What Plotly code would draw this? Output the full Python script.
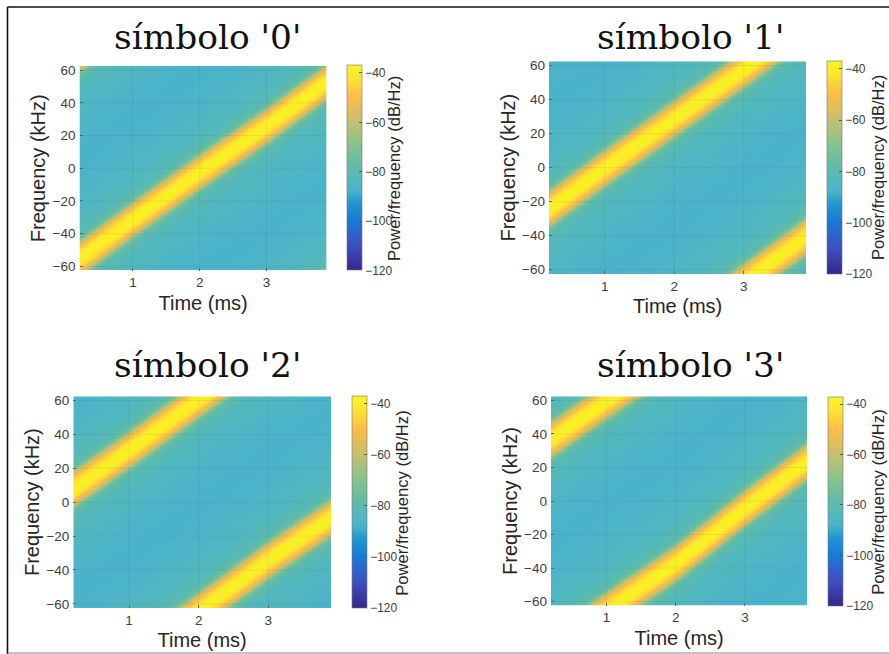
import numpy as np
import plotly.graph_objects as go

# Values
symbols = ["0", "1", "2", "3"]
ridge_times_ms = [0.2, 1, 2, 3, 3.9]
ridge_khz_0 = [-55, -31, -2, 26, 53]
ridge_khz_1 = [-24, 0, 29, 58, 85]
ridge_khz_2 = [8, 31, 61, 91, 116]
ridge_khz_3 = [37, 60, 88, 121, 149]
band_offset_khz = [0, 3, 5, 7, 9, 10.5, 12, 15, 20, 30, 45, 62.5]
band_level_db = [-38, -40, -44, -50, -57, -65, -74, -80, -83, -85, -87, -88]
x_ticks = [1, 2, 3]
y_ticks = [-60, -40, -20, 0, 20, 40, 60]
cbar_ticks = [-40, -60, -80, -100, -120]

# Display grid: each cell is a table lookup into the lists above
time_axis = np.linspace(0.2, 3.9, 220)
freq_axis = np.linspace(-62.5, 62.5, 250)
span = 125.0


def spectrogram(ridge):
    centre = np.interp(time_axis, ridge_times_ms, ridge)
    d = (freq_axis[:, None] - centre[None, :] + span / 2) % span - span / 2
    return np.interp(np.abs(d), band_offset_khz, band_level_db)


ridges = [ridge_khz_0, ridge_khz_1, ridge_khz_2, ridge_khz_3]

parula = [
    [0.0, "#33288a"], [0.12, "#3f4fc0"], [0.241, "#1a78d8"], [0.325, "#2096d0"],
    [0.386, "#4ab3ca"], [0.434, "#52b8be"], [0.506, "#62bba6"], [0.602, "#84c38e"],
    [0.723, "#c4c070"], [0.843, "#fdbc48"], [0.94, "#fde530"], [1.0, "#f9f520"],
]

W, H = 889, 654
# left, right, top, bottom of plot; colorbar left; title centre x, y; cbar title x, y
panels = [
    (79.5, 326.7, 66, 270.5, 346.7, 207, 37, 395, 169),
    (549, 806.3, 61.3, 274, 827.3, 690, 37, 878, 168),
    (73.3, 331, 396.3, 608, 351.7, 207, 365, 401.7, 503),
    (551, 807.3, 396.3, 605.7, 827.7, 690, 365, 877.7, 502),
]

fig = go.Figure()
annotations, shapes = [], []
axes = {}
for i, (sym, ridge, p) in enumerate(zip(symbols, ridges, panels)):
    l, r, t, b, cb, tx, ty, ctx, cty = p
    n = "" if i == 0 else str(i + 1)
    fig.add_trace(go.Heatmap(
        x=time_axis, y=freq_axis, z=spectrogram(ridge),
        xaxis="x" + n, yaxis="y" + n, zsmooth="best",
        colorscale=parula, zmin=-120, zmax=-37,
        colorbar=dict(
            x=cb / W, xanchor="left", xpad=0, ypad=0, thickness=14.5, thicknessmode="pixels",
            y=1 - b / H, yanchor="bottom", len=(b - t) / H, lenmode="fraction",
            tickvals=cbar_ticks, ticks="inside", ticklen=3, tickcolor="#555",
            ticklabelposition="outside",
            tickfont=dict(family="Liberation Sans", size=12, color="#404040"),
            outlinecolor="#777", outlinewidth=0.6,
        ),
    ))
    axes["xaxis" + n] = dict(
        domain=[l / W, r / W], anchor="y" + n, range=[0.2, 3.9], tickvals=x_ticks,
        ticks="inside", ticklen=3, tickcolor="#667", showgrid=False, zeroline=False,
        ticklabelstandoff=2,
        tickfont=dict(family="Liberation Sans", size=13.5, color="#404040"),
        title=dict(text="Time (ms)", standoff=6,
                   font=dict(family="Liberation Sans", size=20, color="#262626")),
    )
    axes["yaxis" + n] = dict(
        domain=[1 - b / H, 1 - t / H], anchor="x" + n, range=[-62.5, 62.5], tickvals=y_ticks,
        ticks="inside", ticklen=3, tickcolor="#667", showgrid=False, zeroline=False,
        ticklabelstandoff=3,
        tickfont=dict(family="Liberation Sans", size=13.5, color="#404040"),
        title=dict(text="Frequency (kHz)", standoff=1,
                   font=dict(family="Liberation Sans", size=20, color="#262626")),
    )
    annotations.append(dict(
        text=f"símbolo '{sym}'", x=tx / W, y=1 - ty / H, xref="paper", yref="paper",
        xanchor="center", yanchor="middle", showarrow=False,
        font=dict(family="DejaVu Serif", size=34.4, color="#111"),
    ))
    annotations.append(dict(
        text="Power/frequency (dB/Hz)", x=ctx / W, y=1 - cty / H, xref="paper", yref="paper",
        xanchor="center", yanchor="middle", showarrow=False, textangle=-90,
        font=dict(family="Liberation Sans", size=16.6, color="#262626"),
    ))
    for v in x_ticks:
        shapes.append(dict(type="line", xref="x" + n, yref="y" + n, x0=v, x1=v, y0=-62.5, y1=62.5,
                           line=dict(color="rgba(40,70,90,0.08)", width=1)))
    for v in y_ticks:
        shapes.append(dict(type="line", xref="x" + n, yref="y" + n, x0=0.2, x1=3.9, y0=v, y1=v,
                           line=dict(color="rgba(40,70,90,0.08)", width=1)))

# Screenshot frame
shapes += [
    dict(type="line", xref="paper", yref="paper", x0=7.5 / W, x1=1, y0=1 - 7 / H, y1=1 - 7 / H,
         line=dict(color="#111", width=1.6)),
    dict(type="line", xref="paper", yref="paper", x0=7.5 / W, x1=7.5 / W, y0=1 - 7 / H, y1=0,
         line=dict(color="#111", width=1.6)),
    dict(type="line", xref="paper", yref="paper", x0=7.5 / W, x1=1, y0=1 / H, y1=1 / H,
         line=dict(color="#888", width=1.2)),
]

fig.update_layout(
    width=W, height=H, margin=dict(l=0, r=0, t=0, b=0, autoexpand=False),
    paper_bgcolor="white", plot_bgcolor="white",
    annotations=annotations, shapes=shapes, **axes,
)
fig.write_html("out.html", config={"displayModeBar": False},
               post_script="document.body.style.margin='0';")
